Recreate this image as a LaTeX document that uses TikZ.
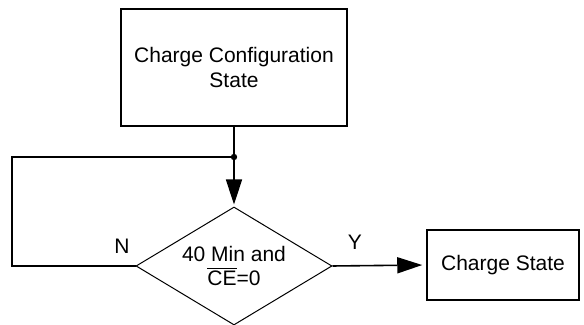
\documentclass[tikz,border=0pt]{standalone}
\usepackage{fontspec}
\setmainfont{Liberation Sans}
\usetikzlibrary{arrows.meta,shapes.geometric,positioning}

\tikzset{
  statebox/.style={draw,line width=0.75pt,align=center,inner sep=0pt},
  decision/.style={draw,diamond,aspect=1.66,line width=0.5pt,align=center,inner sep=0pt,
    minimum width=98pt,minimum height=59pt},
  flow/.style={line width=0.8pt,-{Triangle[length=12.5pt,width=8pt]}},
}

\begin{document}
\begin{tikzpicture}[x=0.5pt,y=0.5pt,font=\fontsize{10.5}{12.5}\selectfont]
 \useasboundingbox (0,0) rectangle (584,325);
 \node[statebox,minimum width=113pt,minimum height=58.5pt] (config) at (234,257.5)
   {Charge Configuration\\State};
 \node[decision] (dec) at (234,59) {40 Min and\\$\overline{\hbox{CE}}$=0};
 \node[statebox,minimum width=76pt,minimum height=35pt] (charge) at (503,60)
   {Charge State};
 \coordinate (j) at (234,168);
 \coordinate (lt) at (12,168);
 \coordinate (lb) at (12,59);
 % connectors
 \draw[line width=0.8pt] (config.south) -- (j);
 \draw[flow,shorten >=1pt] (j) -- (dec.north);
 \fill (j) circle (1.6pt);
 \draw[line width=0.8pt] (dec.west) -- (lb) -- (lt) -- (j);
 \draw[flow,shorten >=2pt] (dec.east) -- (charge.west);
 \node (n) at (122,79) {N};
 \node (y) at (355,82.5) {Y};
\end{tikzpicture}
\end{document}
